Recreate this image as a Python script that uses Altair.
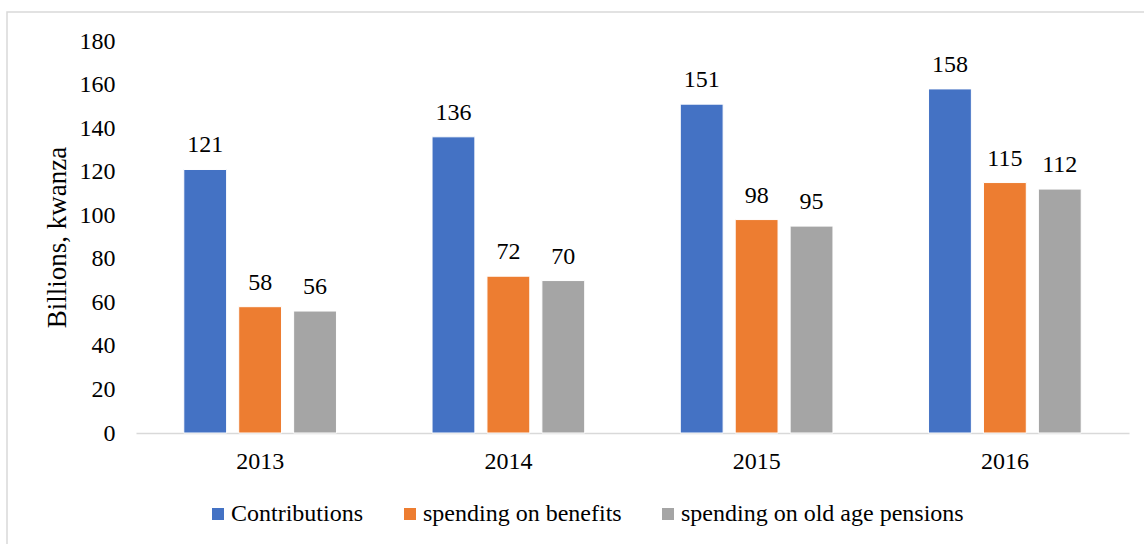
import altair as alt
import pandas as pd

years = ["2013", "2014", "2015", "2016"]
series = ["Contributions", "spending on benefits", "spending on old age pensions"]
contributions = [121, 136, 151, 158]
benefits = [58, 72, 98, 115]
pensions = [56, 70, 95, 112]
colors = ["#4472C4", "#ED7D31", "#A5A5A5"]
y_ticks = [0, 20, 40, 60, 80, 100, 120, 140, 160, 180]

rows = []
for s, vals in zip(series, [contributions, benefits, pensions]):
    for yr, v in zip(years, vals):
        rows.append({"year": yr, "series": s, "value": v})
df = pd.DataFrame(rows)

FONT = "'Liberation Serif', 'Times New Roman', serif"

base = alt.Chart(df).encode(
    x=alt.X("year:N", sort=years,
            scale=alt.Scale(paddingInner=0, paddingOuter=0),
            axis=alt.Axis(title=None, labelAngle=0, labelPadding=16, ticks=False,
                          labelFont=FONT, labelFontSize=24, labelFontWeight="normal",
                          domainColor="#D9D9D9", domainWidth=1.5)),
    xOffset=alt.XOffset("series:N", sort=series,
                        scale=alt.Scale(paddingInner=0.22, paddingOuter=0.87)),
    y=alt.Y("value:Q", scale=alt.Scale(domain=[0, 180], nice=False),
            axis=alt.Axis(values=y_ticks, title="Billions, kwanza",
                          titleFont=FONT, titleFontSize=27, titleFontWeight="normal",
                          titleColor="#000000",
                          titleAngle=270, titleBaseline="alphabetic", titleX=-71, titleY=196,
                          labelFont=FONT, labelFontSize=24, labelFontWeight="normal",
                          labelPadding=21, ticks=False, domain=False, grid=False)),
)

bars = base.mark_bar(stroke="white", strokeWidth=1).encode(
    color=alt.Color("series:N", sort=series,
                    scale=alt.Scale(domain=series, range=colors),
                    legend=alt.Legend(title=None, orient="none", direction="horizontal",
                                      legendX=70, legendY=461, symbolType="square",
                                      symbolSize=144, symbolStrokeWidth=0,
                                      labelLimit=500, labelFont=FONT, labelFontSize=24,
                                      labelFontWeight="normal",
                                      labelOffset=1, columnPadding=34, padding=0))
)

labels = base.mark_text(baseline="alphabetic", dy=-17, fontSize=24, font=FONT,
                        fontWeight="normal", color="#000000").encode(text=alt.Text("value:Q"))

border = alt.Chart(pd.DataFrame({"a": [0]})).mark_rect(
    fill=None, stroke="#D9D9D9", strokeWidth=1.5
).encode(
    x=alt.value(-129), x2=alt.value(1020),
    y=alt.value(-29), y2=alt.value(520),
)

chart = alt.layer(border, bars, labels).properties(
    width=993, height=392,
    autosize=alt.AutoSizeParams(type="none"),
    padding={"left": 136, "top": 41, "right": 15, "bottom": 111},
    background="white",
).configure_view(stroke=None).configure_axis(labelColor="#000000"
).configure_legend(labelColor="#000000")

chart.save("out.html", embed_options={"renderer": "svg", "actions": False})
